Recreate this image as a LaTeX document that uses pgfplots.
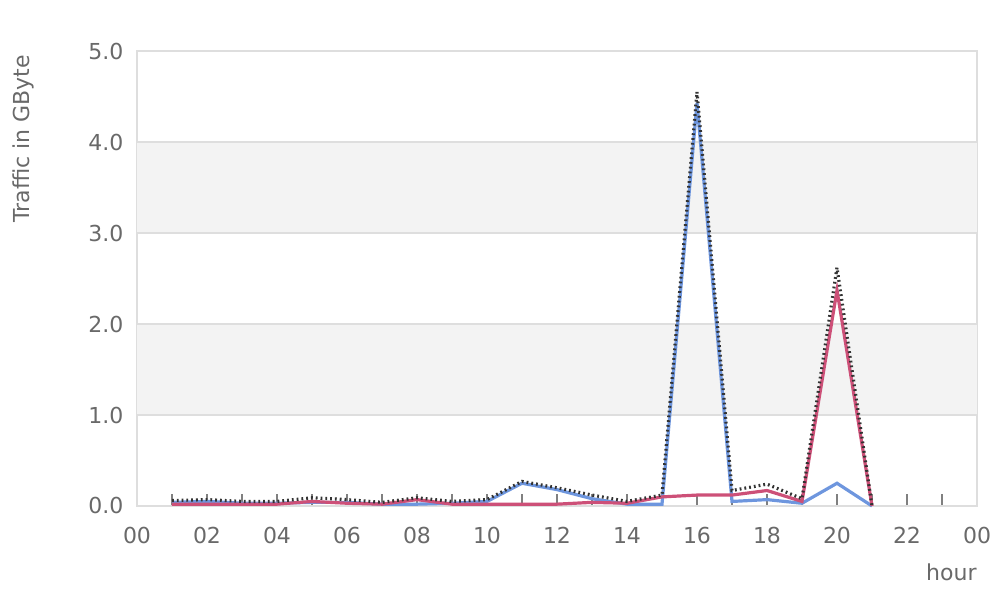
\documentclass[border=0pt]{standalone}
\usepackage{pgfplots}
\pgfplotsset{compat=1.18}
\usepackage{fontspec}
\setmainfont{DejaVu Sans}

\definecolor{txtgray}{RGB}{105,105,105}
\definecolor{gridgray}{RGB}{222,222,222}
\definecolor{bandgray}{RGB}{243,243,243}
\definecolor{inblue}{RGB}{110,150,222}
\definecolor{outpink}{RGB}{205,80,120}

\begin{document}
\begin{tikzpicture}
\path[use as bounding box] (-68.5pt,-46pt) rectangle (435.5pt,253pt);
\begin{axis}[
    scale only axis,
    width=420pt, height=227.5pt,
    xmin=0, xmax=24, ymin=0, ymax=5,
    xtick={0,2,...,24},
    xticklabels={00,02,04,06,08,10,12,14,16,18,20,22,00},
    minor xtick={1,3,...,23},
    ytick={0,1,...,5},
    xtick pos=bottom,
    /pgf/number format/assume math mode=true,
    tick align=inside,
    major tick length=6pt, minor tick length=6pt,
    ytick style={draw=none},
    xtick style={draw=gray, line width=0.8pt},
    minor x tick style={draw=gray, line width=0.8pt},
    ymajorgrids, grid style={gridgray, line width=0.6pt},
    axis line style={gridgray, line width=0.8pt},
    tick label style={font=\fontsize{11}{13}\selectfont, text=txtgray},
    xticklabel style={yshift=-7pt},
    yticklabel style={xshift=-3.3pt, /pgf/number format/.cd, fixed, fixed zerofill, precision=1},
    clip=false,
]
% alternating bands
\fill[bandgray] (axis cs:0,1) rectangle (axis cs:24,2);
\fill[bandgray] (axis cs:0,3) rectangle (axis cs:24,4);
\draw[gridgray, line width=0.6pt] (axis cs:0,1) -- (axis cs:24,1);
\draw[gridgray, line width=0.6pt] (axis cs:0,2) -- (axis cs:24,2);
\draw[gridgray, line width=0.6pt] (axis cs:0,3) -- (axis cs:24,3);
\draw[gridgray, line width=0.6pt] (axis cs:0,4) -- (axis cs:24,4);

% incoming
\addplot[inblue, line width=1.6pt, mark=none] coordinates {
(1,0.04) (2,0.05) (3,0.03) (4,0.03) (5,0.04) (6,0.04) (7,0.02)
(8,0.02) (9,0.03) (10,0.05) (11,0.25) (12,0.18) (13,0.08) (14,0.02)
(15,0.02) (16,4.43) (17,0.05) (18,0.07) (19,0.03) (20,0.25) (21,0.0)
};
% outgoing
\addplot[outpink, line width=1.6pt, mark=none] coordinates {
(1,0.02) (2,0.02) (3,0.02) (4,0.02) (5,0.05) (6,0.03) (7,0.02)
(8,0.07) (9,0.02) (10,0.02) (11,0.02) (12,0.02) (13,0.04) (14,0.03)
(15,0.10) (16,0.12) (17,0.12) (18,0.17) (19,0.05) (20,2.37) (21,0.0)
};
% total
\addplot[black!80, line width=1.6pt, dash pattern=on 0.9pt off 1.5pt, mark=none] coordinates {
(1,0.06) (2,0.07) (3,0.05) (4,0.05) (5,0.09) (6,0.07) (7,0.04)
(8,0.09) (9,0.05) (10,0.07) (11,0.27) (12,0.20) (13,0.12) (14,0.05)
(15,0.12) (16,4.55) (17,0.17) (18,0.24) (19,0.08) (20,2.62) (21,0.0)
};

\node[xshift=-57pt, yshift=183.5pt, rotate=90, text=txtgray, font=\fontsize{11}{13}\selectfont]
  at (rel axis cs:0,0) {Traffic in GByte};
\node[anchor=east, text=txtgray, font=\fontsize{11}{13}\selectfont, yshift=-33pt, inner sep=0pt]
  at (rel axis cs:1,0) {hour};
\end{axis}
\end{tikzpicture}
\end{document}
